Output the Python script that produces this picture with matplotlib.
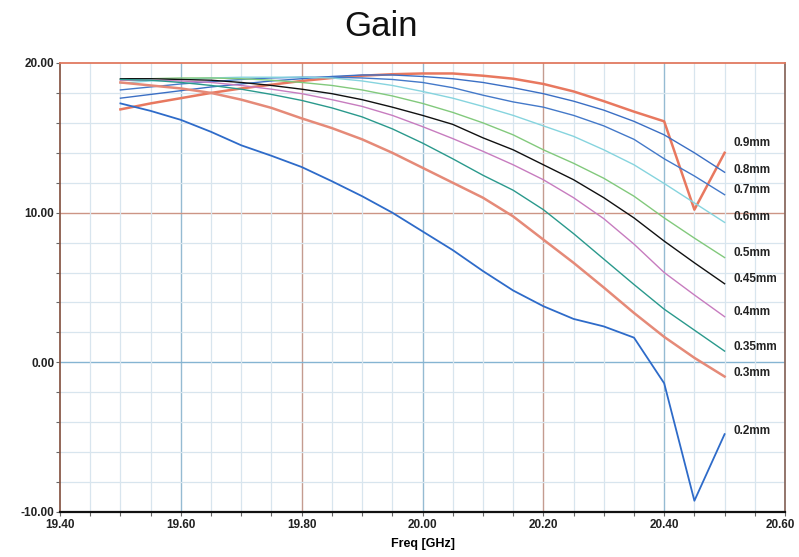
## Gain vs frequency for several wire diameters ##

import numpy as np
import matplotlib.pyplot as plt
from matplotlib.transforms import ScaledTranslation

plt.rcParams['font.family'] = ['Liberation Sans', 'DejaVu Sans']

freq = [19.50, 19.55, 19.60, 19.65, 19.70, 19.75, 19.80, 19.85, 19.90, 19.95, 20.00,
        20.05, 20.10, 20.15, 20.20, 20.25, 20.30, 20.35, 20.40, 20.45, 20.50]

gain_09 = [16.9, 17.3, 17.65, 18.0, 18.3, 18.55, 18.8, 19.0, 19.15, 19.25, 19.3,
           19.3, 19.15, 18.95, 18.6, 18.1, 17.45, 16.75, 16.1, 10.2, 14.0]
gain_08 = [17.65, 17.9, 18.15, 18.4, 18.6, 18.8, 18.95, 19.1, 19.2, 19.2, 19.1,
           18.95, 18.7, 18.35, 17.95, 17.45, 16.85, 16.1, 15.2, 14.0, 12.7]
gain_07 = [18.2, 18.4, 18.6, 18.75, 18.9, 19.0, 19.05, 19.05, 19.0, 18.9, 18.7,
           18.35, 17.85, 17.4, 17.05, 16.5, 15.8, 14.9, 13.6, 12.45, 11.2]
gain_06 = [18.65, 18.8, 18.9, 19.0, 19.05, 19.05, 19.05, 19.0, 18.8, 18.5, 18.1,
           17.65, 17.1, 16.5, 15.8, 15.1, 14.2, 13.2, 11.95, 10.65, 9.35]
gain_05 = [18.9, 18.95, 19.0, 19.0, 18.95, 18.85, 18.7, 18.5, 18.2, 17.8, 17.3,
           16.7, 16.0, 15.2, 14.2, 13.3, 12.3, 11.1, 9.65, 8.3, 7.0]
gain_045 = [18.95, 18.95, 18.9, 18.85, 18.7, 18.5, 18.25, 17.95, 17.55, 17.05, 16.5,
            15.9, 15.0, 14.2, 13.2, 12.2, 11.0, 9.65, 8.1, 6.65, 5.25]
gain_04 = [18.85, 18.85, 18.8, 18.7, 18.5, 18.25, 17.95, 17.55, 17.1, 16.5, 15.75,
           14.95, 14.1, 13.2, 12.2, 11.0, 9.6, 7.9, 6.0, 4.5, 3.05]
gain_035 = [18.9, 18.85, 18.7, 18.5, 18.25, 17.9, 17.5, 17.0, 16.4, 15.6, 14.65,
            13.6, 12.5, 11.5, 10.2, 8.6, 6.9, 5.2, 3.55, 2.15, 0.75]
gain_03 = [18.7, 18.5, 18.3, 18.0, 17.55, 17.0, 16.3, 15.65, 14.9, 14.0, 13.0,
           12.0, 11.0, 9.75, 8.2, 6.65, 5.0, 3.3, 1.7, 0.3, -0.95]
gain_02 = [17.3, 16.8, 16.2, 15.4, 14.5, 13.8, 13.05, 12.1, 11.1, 10.0, 8.75,
           7.5, 6.1, 4.8, 3.75, 2.9, 2.4, 1.65, -1.4, -9.25, -4.8]

labels = ['0.9mm', '0.8mm', '0.7mm', '0.6mm', '0.5mm', '0.45mm', '0.4mm', '0.35mm', '0.3mm', '0.2mm']
series = [gain_09, gain_08, gain_07, gain_06, gain_05, gain_045, gain_04, gain_035, gain_03, gain_02]

colors = ['#e8785f', '#3b6fc4', '#4479c9', '#86d4de', '#82c97c', '#111111',
          '#c77cbf', '#2a998c', '#e58a78', '#2e6bc9']
widths = [1.8, 1.0, 1.0, 1.0, 1.0, 1.0, 1.0, 1.0, 1.8, 1.3]
# where the right-hand name tags sit (gain units)
label_y = [14.67, 12.87, 11.53, 9.73, 7.33, 5.6, 3.33, 1.0, -0.73, -4.6]

fig = plt.figure(figsize=(7.99, 5.57), dpi=100)
ax = fig.add_axes([0.0751, 0.0808, 0.9074, 0.8061])

ax.set_xlim(19.4, 20.6)
ax.set_ylim(-10, 20)
xmaj = np.arange(19.4, 20.61, 0.2)
ymaj = np.arange(-10, 20.1, 10)
ax.set_xticks(xmaj)
ax.set_xticks(np.arange(19.4, 20.61, 0.05), minor=True)
ax.set_yticks(ymaj)
ax.set_yticks(np.arange(-10, 20.1, 2), minor=True)
ax.set_xticklabels(['%.2f' % v for v in xmaj])
ax.set_yticklabels(['%.2f' % v for v in ymaj])

# grid: light minor lines, major lines alternating blue / brown
ax.grid(which='minor', color='#d8e5ee', lw=0.9)
ax.grid(which='major', visible=False)
for i, v in enumerate(xmaj[1:-1]):
    ax.axvline(v, color='#95bbd2' if i % 2 == 0 else '#c49c90', lw=1.0, zorder=1)
ax.axhline(10, color='#cc9585', lw=1.0, zorder=1)
ax.axhline(0, color='#85b4d2', lw=1.0, zorder=1)

for g, c, w in zip(series, colors, widths):
    ax.plot(freq, g, color=c, lw=w, zorder=3)

for lab, y in zip(labels, label_y):
    ax.text(20.515, y, lab, fontsize=8.5, fontweight='bold', color='#222222', va='center', ha='left')

ax.spines['left'].set_color('#8a5a4a')
ax.spines['top'].set_color('#e07a60')
ax.spines['right'].set_color('#8a6a60')
ax.spines['bottom'].set_color('#111111')
ax.spines['bottom'].set_linewidth(1.6)
ax.spines['left'].set_linewidth(1.3)
ax.spines['top'].set_linewidth(1.3)
ax.spines['right'].set_linewidth(1.3)

ax.tick_params(which='both', direction='out', length=3, width=0.8, color='#666666',
               labelsize=8.5, labelcolor='#222222')
ax.tick_params(axis='x', which='both', pad=2)
ax.tick_params(axis='y', which='both', pad=1)
for t in ax.get_xticklabels() + ax.get_yticklabels():
    t.set_fontweight('bold')
# keep the last frequency label inside the canvas
last = ax.get_xticklabels()[-1]
last.set_transform(last.get_transform() + ScaledTranslation(-5 / 100, 0, fig.dpi_scale_trans))

ax.set_xlabel('Freq [GHz]', fontsize=9, fontweight='bold', labelpad=5)
fig.text(0.477, 0.953, 'Gain', fontsize=25, ha='center', va='center', color='#111111')

fig.savefig('out.png', dpi=100)
